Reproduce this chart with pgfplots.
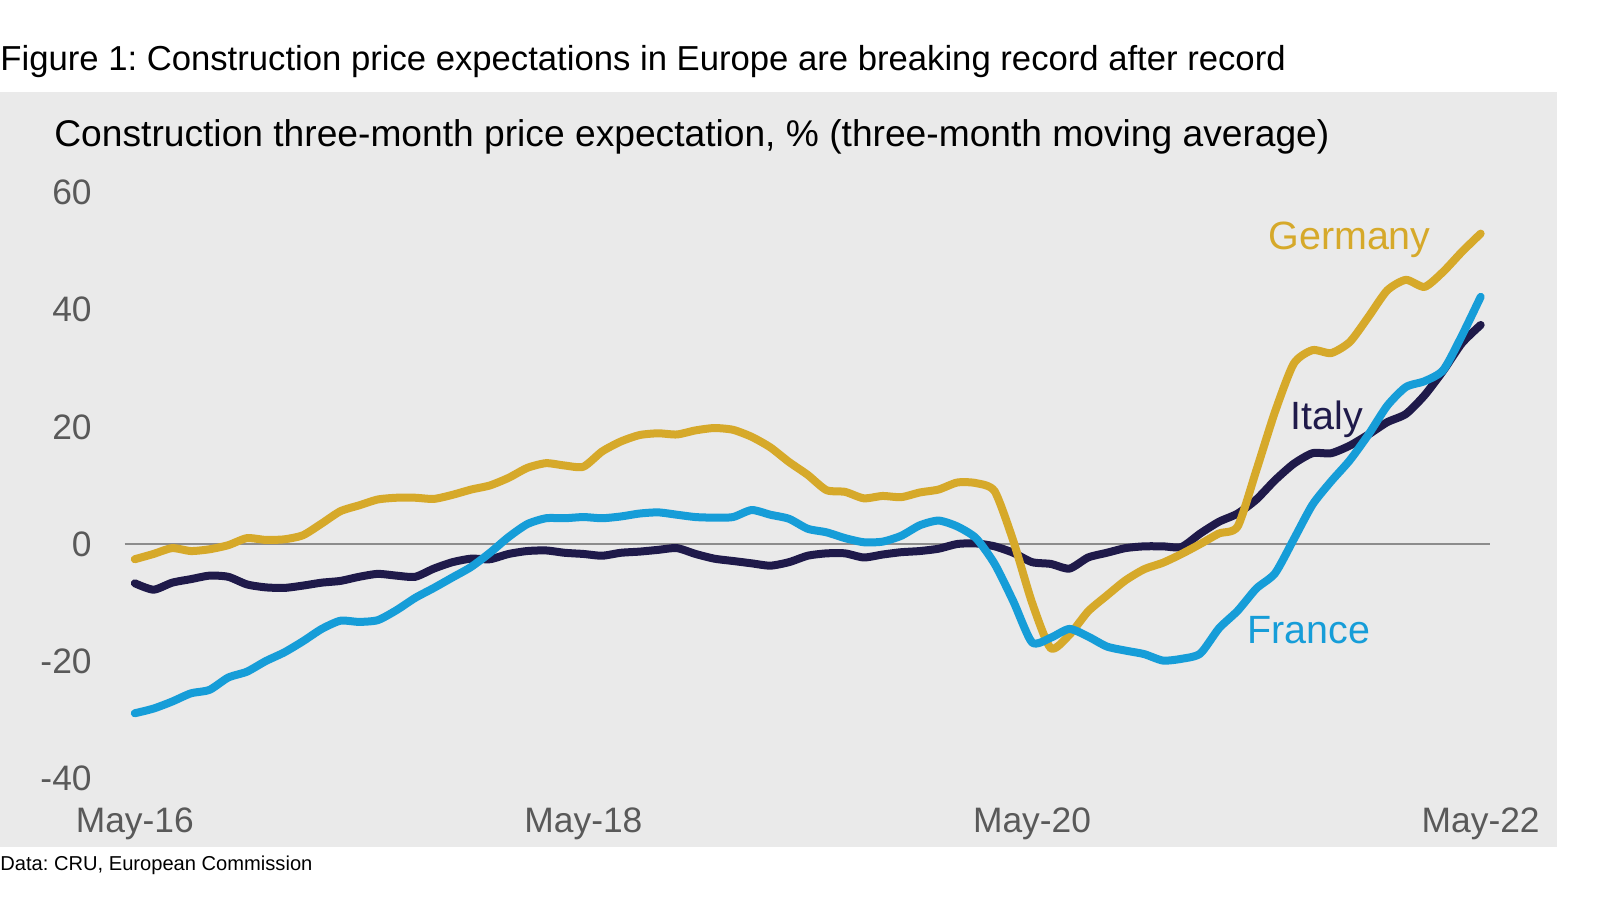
\documentclass[border=0pt]{standalone}
\usepackage{fontspec}
\setmainfont{Liberation Sans}
\usepackage{pgfplots}
\usepackage{pgfplotstable}
\usetikzlibrary{backgrounds}
\pgfplotsset{compat=1.18}
\frenchspacing
\definecolor{ger}{HTML}{D6A92A}
\definecolor{ita}{HTML}{1F1A4A}
\definecolor{fra}{HTML}{169DD8}
\definecolor{bgc}{HTML}{EAEAEA}
\definecolor{tickc}{HTML}{595959}
\definecolor{zeroc}{HTML}{8C8C8C}
\pgfplotstableread{
m ger ita fra
0 -2.6 -6.7 -28.9
1 -1.7 -7.8 -28.1
2 -0.7 -6.6 -26.9
3 -1.2 -6.0 -25.5
4 -0.9 -5.4 -24.9
5 -0.2 -5.6 -22.8
6 1.0 -6.9 -21.8
7 0.7 -7.4 -20.0
8 0.8 -7.5 -18.5
9 1.5 -7.1 -16.6
10 3.5 -6.6 -14.5
11 5.6 -6.3 -13.1
12 6.6 -5.6 -13.3
13 7.6 -5.1 -13.0
14 7.9 -5.4 -11.3
15 7.9 -5.6 -9.2
16 7.7 -4.2 -7.5
17 8.4 -3.1 -5.7
18 9.3 -2.5 -3.9
19 10.0 -2.6 -1.5
20 11.3 -1.7 1.2
21 13.0 -1.2 3.4
22 13.8 -1.1 4.4
23 13.4 -1.5 4.4
24 13.2 -1.7 4.6
25 15.8 -2.0 4.4
26 17.5 -1.5 4.7
27 18.6 -1.3 5.2
28 18.9 -1.0 5.4
29 18.7 -0.7 5.0
30 19.4 -1.7 4.6
31 19.8 -2.5 4.5
32 19.5 -2.9 4.6
33 18.3 -3.3 5.8
34 16.5 -3.7 5.0
35 14.0 -3.1 4.3
36 11.8 -2.0 2.6
37 9.2 -1.6 2.0
38 8.9 -1.6 1.0
39 7.8 -2.3 0.3
40 8.2 -1.8 0.4
41 8.0 -1.4 1.4
42 8.8 -1.2 3.2
43 9.3 -0.8 4.0
44 10.5 0.0 3.0
45 10.4 0.1 1.0
46 9.0 -0.4 -3.4
47 0.5 -1.5 -9.8
48 -10.0 -3.1 -16.8
49 -17.8 -3.4 -16.0
50 -15.5 -4.2 -14.5
51 -11.5 -2.3 -15.8
52 -8.8 -1.5 -17.5
53 -6.2 -0.7 -18.2
54 -4.3 -0.4 -18.8
55 -3.2 -0.4 -19.9
56 -1.7 -0.5 -19.6
57 0.0 1.8 -18.7
58 1.8 3.8 -14.4
59 3.0 5.2 -11.4
60 12.6 7.6 -7.6
61 22.6 10.9 -5.0
62 30.8 13.7 0.8
63 33.1 15.5 6.7
64 32.6 15.5 10.7
65 34.5 16.8 14.3
66 38.8 18.7 18.7
67 43.3 20.8 23.6
68 45.1 22.2 26.8
69 43.9 25.4 27.8
70 46.5 29.6 29.7
71 49.9 34.3 35.6
72 53.0 37.4 42.2
}\data
\begin{document}
\begin{tikzpicture}[x=1bp,y=1bp]
\begin{axis}[name=ax, scale only axis,
  width=682.75bp, height=292.85bp,
  xmin=-0.55, xmax=72.5, ymin=-40, ymax=60,
  axis line style={draw=none}, major tick length=0pt,
  xtick={0,24,48,72}, xticklabels={May-16,May-18,May-20,May-22},
  ytick={-40,-20,0,20,40,60}, yticklabels={-40,-20,0,20,40,60},
  tick label style={font=\fontsize{17.75}{20}\selectfont, text=tickc, inner sep=0pt},
  yticklabel style={anchor=east, xshift=-16.25bp},
  xticklabel style={anchor=base, yshift=-27.35bp},
  clip=false]
\addplot[zeroc, line width=1bp] coordinates {(-0.55,0) (72.5,0)};
\addplot[ita, line width=4bp, smooth, tension=0.4, line join=round, line cap=round] table[x=m,y=ita] {\data};
\addplot[ger, line width=4bp, smooth, tension=0.4, line join=round, line cap=round] table[x=m,y=ger] {\data};
\addplot[fra, line width=4bp, smooth, tension=0.4, line join=round, line cap=round] table[x=m,y=fra] {\data};
\end{axis}
\begin{scope}[shift={(ax.south west)}, xshift=-62.25bp, yshift=-60.85bp]
\path[use as bounding box] (0,0) rectangle (800,450);
\begin{scope}[on background layer]
\fill[bgc] (0,26.65) rectangle (778.3,404.15);
\end{scope}
\node[anchor=base west, inner sep=0pt] at (0,414.5) {\fontsize{17.4}{20}\selectfont Figure 1: Construction price expectations in Europe are breaking record after record};
\node[anchor=base west, inner sep=0pt] at (27,376.65) {\fontsize{18.66}{21}\selectfont Construction three-month price expectation, \% (three-month moving average)};
\node[anchor=west, inner sep=0pt] at (0,17.5) {\fontsize{10.1}{12}\selectfont Data: CRU, European Commission};
\node[anchor=base west, inner sep=0pt, text=ger] at (634,325) {\fontsize{19.8}{22}\selectfont Germany};
\node[anchor=base west, inner sep=0pt, text=ita] at (645,235) {\fontsize{19.8}{22}\selectfont Italy};
\node[anchor=base west, inner sep=0pt, text=fra] at (623.5,128) {\fontsize{19.8}{22}\selectfont France};
\end{scope}
\end{tikzpicture}
\end{document}
